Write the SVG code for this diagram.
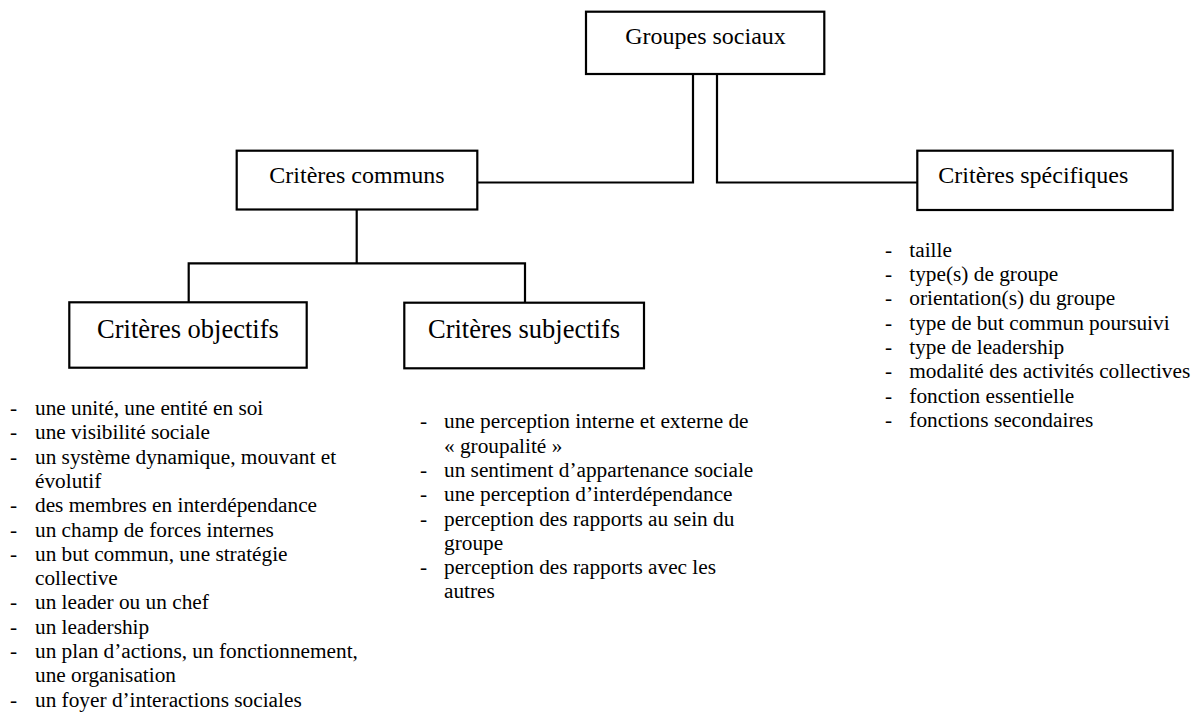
<svg xmlns="http://www.w3.org/2000/svg" width="1198" height="717" viewBox="0 0 1198 717" font-family="'Liberation Serif', 'Times New Roman', Times, serif">
<style>
.box{fill:#fff;stroke:#000;stroke-width:2.2}
.ln{fill:none;stroke:#000;stroke-width:2.2}
.t{font-family:'Liberation Serif', Tinos, 'Times New Roman', Times, serif;fill:#000}
.h{font-size:24px;text-anchor:middle}
.h2{font-size:26.5px;text-anchor:middle}
.l{font-size:21.3px}
</style>
<rect width="1198" height="717" fill="#fff"/>
<g id="connectors">
<polyline class="ln" points="693,74 693,182.5 477.3,182.5"/>
<polyline class="ln" points="717,74 717,182.5 917.3,182.5"/>
<polyline class="ln" points="356.7,209.5 356.7,263.3"/>
<polyline class="ln" points="188.7,302.3 188.7,263.3 525,263.3 525,302.7"/>
</g>
<g id="groupes-sociaux">
<rect class="box" x="586" y="11.7" width="238.3" height="62.3"/>
<text class="t h" x="705.5" y="44">Groupes sociaux</text>
</g>
<g id="criteres-communs">
<rect class="box" x="236.7" y="150.7" width="240.6" height="58.8"/>
<text class="t h" x="357" y="183.3">Critères communs</text>
</g>
<g id="criteres-specifiques">
<rect class="box" x="917.3" y="150.7" width="255.4" height="59.3"/>
<text class="t" font-size="24" x="938.3" y="182.7">Critères spécifiques</text>
</g>
<g id="criteres-objectifs">
<rect class="box" x="69.3" y="302.3" width="237.4" height="65.4"/>
<text class="t h2" x="188" y="338.3">Critères objectifs</text>
</g>
<g id="criteres-subjectifs">
<rect class="box" x="404.3" y="302.7" width="239.7" height="65.6"/>
<text class="t h2" x="524" y="338.3">Critères subjectifs</text>
</g>
<g id="liste-objectifs" class="t l">
<text x="10" y="415">-</text><text x="35" y="415">une unité, une entité en soi</text>
<text x="10" y="439.3">-</text><text x="35" y="439.3">une visibilité sociale</text>
<text x="10" y="463.6">-</text><text x="35" y="463.6">un système dynamique, mouvant et</text>
<text x="35" y="487.9">évolutif</text>
<text x="10" y="512.2">-</text><text x="35" y="512.2">des membres en interdépendance</text>
<text x="10" y="536.5">-</text><text x="35" y="536.5">un champ de forces internes</text>
<text x="10" y="560.8">-</text><text x="35" y="560.8">un but commun, une stratégie</text>
<text x="35" y="585.1">collective</text>
<text x="10" y="609.4">-</text><text x="35" y="609.4">un leader ou un chef</text>
<text x="10" y="633.7">-</text><text x="35" y="633.7">un leadership</text>
<text x="10" y="658">-</text><text x="35" y="658">un plan d’actions, un fonctionnement,</text>
<text x="35" y="682.3">une organisation</text>
<text x="10" y="706.6">-</text><text x="35" y="706.6">un foyer d’interactions sociales</text>
</g>
<g id="liste-subjectifs" class="t l">
<text x="420" y="428.3">-</text><text x="444" y="428.3">une perception interne et externe de</text>
<text x="444" y="452.6">« groupalité »</text>
<text x="420" y="476.9">-</text><text x="444" y="476.9">un sentiment d’appartenance sociale</text>
<text x="420" y="501.2">-</text><text x="444" y="501.2">une perception d’interdépendance</text>
<text x="420" y="525.5">-</text><text x="444" y="525.5">perception des rapports au sein du</text>
<text x="444" y="549.8">groupe</text>
<text x="420" y="574.1">-</text><text x="444" y="574.1">perception des rapports avec les</text>
<text x="444" y="598.4">autres</text>
</g>
<g id="liste-specifiques" class="t l">
<text x="885" y="256.7">-</text><text x="909.3" y="256.7">taille</text>
<text x="885" y="281">-</text><text x="909.3" y="281">type(s) de groupe</text>
<text x="885" y="305.4">-</text><text x="909.3" y="305.4">orientation(s) du groupe</text>
<text x="885" y="329.7">-</text><text x="909.3" y="329.7">type de but commun poursuivi</text>
<text x="885" y="354.1">-</text><text x="909.3" y="354.1">type de leadership</text>
<text x="885" y="378.4">-</text><text x="909.3" y="378.4">modalité des activités collectives</text>
<text x="885" y="402.7">-</text><text x="909.3" y="402.7">fonction essentielle</text>
<text x="885" y="427.1">-</text><text x="909.3" y="427.1">fonctions secondaires</text>
</g>
</svg>
